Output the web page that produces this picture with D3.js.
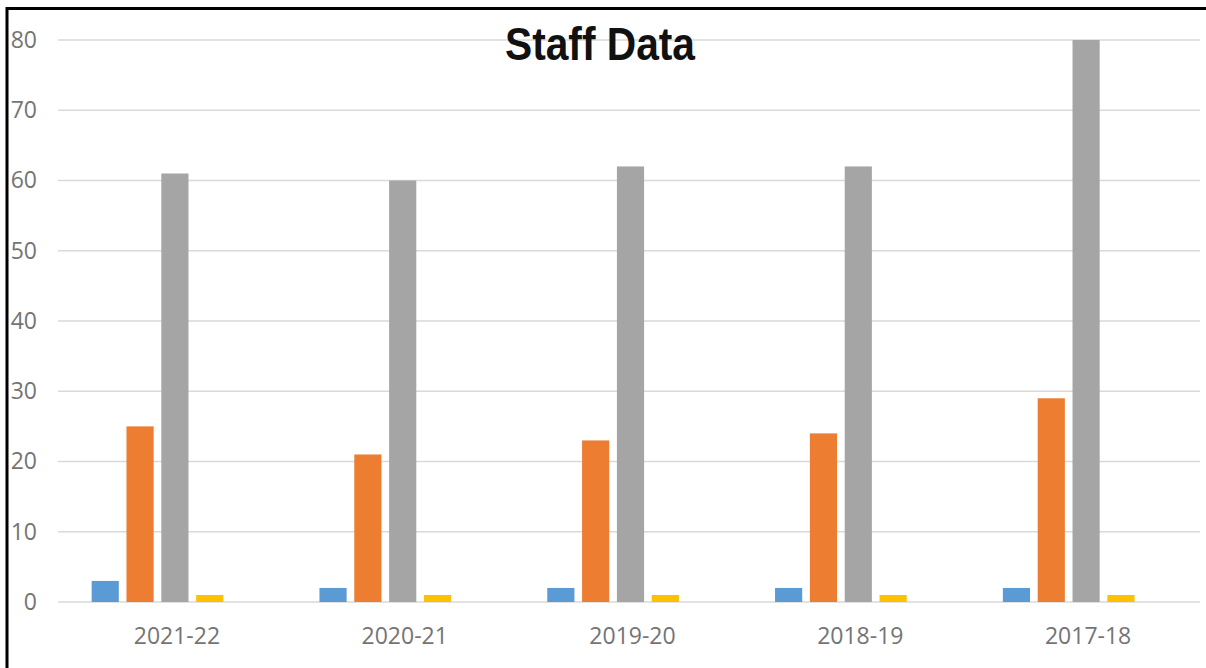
<!DOCTYPE html>
<html>
<head>
<meta charset="utf-8">
<script src="https://cdn.jsdelivr.net/npm/d3@7"></script>
<style>
  body { margin: 0; background: white; }
  #chart { width: 1206px; height: 668px; }
</style>
</head>
<body>
<div id="chart"></div>
<script>
// chart data
var years = ["2021-22", "2020-21", "2019-20", "2018-19", "2017-18"];
var seriesA = [3, 2, 2, 2, 2];        // blue
var seriesB = [25, 21, 23, 24, 29];   // orange
var seriesC = [61, 60, 62, 62, 80];   // gray
var seriesD = [1, 1, 1, 1, 1];        // yellow
var yTicks = [0, 10, 20, 30, 40, 50, 60, 70, 80];

var seriesList = [seriesA, seriesB, seriesC, seriesD];
var seriesColors = ["#5B9BD5", "#ED7D31", "#A5A5A5", "#FFC000"];

var width = 1206, height = 668;
var margin = { top: 40, right: 6, bottom: 66, left: 58 };

var svg = d3
  .select("#chart")
  .append("svg")
  .attr("width", width)
  .attr("height", height);

// scales
var x = d3
  .scaleBand()
  .domain(years)
  .range([61, width - margin.right])
  .padding(0);

// 5 slots per group (the chart leaves room for an empty 5th series)
var x1 = d3
  .scaleBand()
  .domain(d3.range(5))
  .range([0, x.bandwidth()])
  .paddingInner(0.22)
  .paddingOuter(0.88);

var y = d3
  .scaleLinear()
  .domain([0, 80])
  .range([height - margin.bottom, margin.top]);

// gridlines
svg
  .append("g")
  .selectAll("line")
  .data(yTicks)
  .enter()
  .append("line")
  .attr("x1", margin.left)
  .attr("x2", width - margin.right)
  .attr("y1", function (d) { return y(d); })
  .attr("y2", function (d) { return y(d); })
  .style("stroke", "#d9d9d9")
  .style("stroke-width", 1.5);

// y axis labels
svg
  .append("g")
  .attr("transform", "translate(37,0)")
  .call(d3.axisLeft(y).tickValues(yTicks).tickSize(0).tickPadding(0))
  .call(function (g) { g.select(".domain").remove(); })
  .selectAll("text")
  .style("font-family", "'Open Sans', sans-serif")
  .style("font-size", "23px")
  .style("fill", "#747474");

// x axis labels
svg
  .append("g")
  .attr("transform", "translate(2," + (height - margin.bottom) + ")")
  .call(d3.axisBottom(x).tickSize(0).tickPadding(26))
  .call(function (g) { g.select(".domain").remove(); })
  .selectAll("text")
  .style("font-family", "'Open Sans', sans-serif")
  .style("font-size", "23px")
  .style("fill", "#747474");

// bars
seriesList.forEach(function (values, s) {
  svg
    .append("g")
    .selectAll("rect")
    .data(values)
    .enter()
    .append("rect")
    .attr("x", function (d, i) { return x(years[i]) + x1(s); })
    .attr("y", function (d) { return y(d); })
    .attr("width", x1.bandwidth())
    .attr("height", function (d) { return y(0) - y(d); })
    .style("fill", seriesColors[s]);
});

// title
svg
  .append("text")
  .attr("x", 600)
  .attr("y", 60)
  .attr("text-anchor", "middle")
  .attr("textLength", 190)
  .attr("lengthAdjust", "spacingAndGlyphs")
  .style("font-family", "'Liberation Sans Narrow', 'Liberation Sans', sans-serif")
  .style("font-weight", "bold")
  .style("font-size", "47px")
  .style("fill", "#111")
  .text("Staff Data");

// frame (left and top edges)
svg
  .append("path")
  .attr("d", "M7," + height + "V8.5H" + width)
  .style("fill", "none")
  .style("stroke", "black")
  .style("stroke-width", 3);
</script>
</body>
</html>
